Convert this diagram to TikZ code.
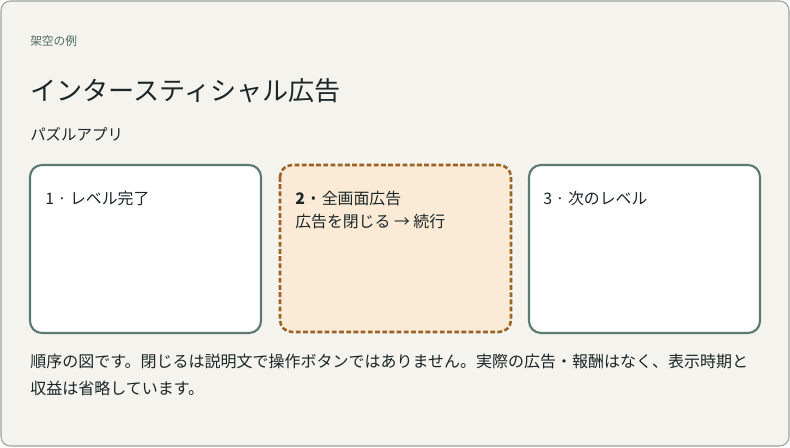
\documentclass[tikz,border=0pt]{standalone}
\usepackage{fontspec}
\setmainfont{Noto Sans CJK JP}
\definecolor{bgc}{HTML}{F5F3EE}
\definecolor{framec}{HTML}{9AA39E}
\definecolor{boxc}{HTML}{5B7B72}
\definecolor{adfill}{HTML}{FBEBD6}
\definecolor{adline}{HTML}{9A6323}
\definecolor{txt}{HTML}{1A2628}
\definecolor{kick}{HTML}{4D6A62}
\tikzset{
  stepbox/.style={draw=boxc, line width=1.6pt, fill=white, rounded corners=9pt},
  adbox/.style={draw=adline, line width=1.9pt, fill=adfill, rounded corners=9pt, dash pattern=on 3.6pt off 1.8pt},
  lbl/.style={anchor=base west, inner sep=0pt, text=txt, font=\fontsize{11.9pt}{14pt}\selectfont},
}
\begin{document}
\begin{tikzpicture}[x=0.75pt,y=-0.75pt]
\useasboundingbox (0,0) rectangle (790,447);
\draw[draw=framec, fill=bgc, line width=0.8pt, rounded corners=7pt] (1,1) rectangle (789,446);
\node[anchor=base west, inner sep=0pt, text=kick, font=\fontsize{8.8pt}{10pt}\selectfont] (kicker) at (30,45) {架空の例};
\node[anchor=base west, inner sep=0pt, text=txt, font=\fontsize{19.6pt}{23pt}\selectfont] (title) at (30,100) {インタースティシャル広告};
\node[anchor=base west, inner sep=0pt, text=txt, font=\fontsize{11.6pt}{14pt}\selectfont] (sub) at (30,140) {パズルアプリ};
\draw[stepbox] (30,165) rectangle (261,333);
\draw[adbox] (280,165) rectangle (511,332);
\draw[stepbox] (529,165) rectangle (760,333);
\node[lbl] (s1) at (45,204) {1 · レベル完了};
\node[lbl] (s2) at (295,204) {\textbf{2 ·} 全画面広告};
\node[lbl] (s2b) at (295,227) {広告を閉じる → 続行};
\node[lbl] (s3) at (543,204) {3 · 次のレベル};
\node[lbl, font=\fontsize{12pt}{14pt}\selectfont] (n1) at (30,367) {順序の図です。閉じるは説明文で操作ボタンではありません。実際の広告・報酬はなく、表示時期と};
\node[lbl, font=\fontsize{12pt}{14pt}\selectfont] (n2) at (30,394) {収益は省略しています。};
\end{tikzpicture}
\end{document}
